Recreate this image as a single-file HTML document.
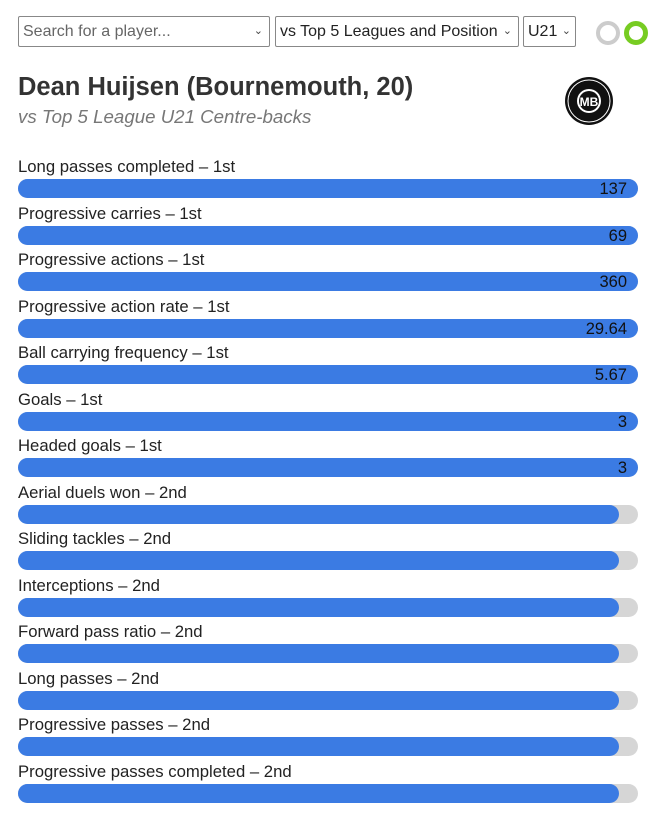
<!DOCTYPE html>
<html><head><meta charset="utf-8"><style>
body{margin:0;width:660px;height:829px;background:#fff;font-family:"Liberation Sans",Arial,sans-serif;color:#222;position:relative;overflow:hidden}
.sel{position:absolute;top:16px;height:31px;border:1px solid #888;border-radius:2px;box-sizing:border-box;font-size:16px;line-height:29px;padding-left:4px;color:#222}
.sel .c{position:absolute;right:6px;top:0;font-size:11px;color:#444}
.circ{position:absolute;border-radius:50%;box-sizing:border-box}
h1{position:absolute;left:18px;top:73px;margin:0;font-size:25.5px;font-weight:bold;color:#333}
.sub{position:absolute;left:18px;top:106px;font-size:18.7px;font-style:italic;color:#777}
.lab{position:absolute;left:18px;font-size:16.7px;color:#222}
.bg{position:absolute;left:18px;width:620px;height:19px;border-radius:10px;background:#d6d6d6}
.fg{position:absolute;left:0;top:0;height:19px;border-radius:10px;background:#3b7be3;font-size:16.5px;line-height:21px;text-align:right;box-sizing:border-box;padding-right:11px;color:#111}
</style></head><body>
<div class="sel" style="left:18px;width:252px;color:#666">Search for a player...<span class="c">&#8964;</span></div>
<div class="sel" style="left:275px;width:244px">vs Top 5 Leagues and Position<span class="c">&#8964;</span></div>
<div class="sel" style="left:523px;width:53px">U21<span class="c" style="right:4px">&#8964;</span></div>
<div class="circ" style="left:596px;top:21px;width:24px;height:24px;border:4px solid #ccc"></div>
<div class="circ" style="left:624px;top:21px;width:24px;height:24px;border:5px solid #77cc22"></div>
<h1>Dean Huijsen (Bournemouth, 20)</h1>
<div class="sub">vs Top 5 League U21 Centre-backs</div>
<svg style="position:absolute;left:564px;top:76px" width="50" height="50" viewBox="0 0 50 50"><circle cx="25" cy="25" r="24" fill="#111"/><circle cx="25" cy="25" r="21" fill="none" stroke="#fff" stroke-width="1"/><circle cx="25" cy="25" r="12" fill="#fff"/><circle cx="25" cy="25" r="10" fill="#111"/><text x="25" y="30" font-size="12" font-weight="bold" fill="#fff" text-anchor="middle" font-family="Liberation Sans">MB</text></svg>
<div id="bars"></div>
<script>
var d=[["Long passes completed – 1st","137",1],["Progressive carries – 1st","69",1],["Progressive actions – 1st","360",1],["Progressive action rate – 1st","29.64",1],["Ball carrying frequency – 1st","5.67",1],["Goals – 1st","3",1],["Headed goals – 1st","3",1],["Aerial duels won – 2nd","",0],["Sliding tackles – 2nd","",0],["Interceptions – 2nd","",0],["Forward pass ratio – 2nd","",0],["Long passes – 2nd","",0],["Progressive passes – 2nd","",0],["Progressive passes completed – 2nd","",0]];
var h="";d.forEach(function(r,i){var y=179+i*46.5;h+='<div class="lab" style="top:'+(y-22)+'px">'+r[0]+'</div><div class="bg" style="top:'+y+'px"><div class="fg" style="width:'+(r[2]?620:601)+'px">'+r[1]+'</div></div>';});
document.getElementById("bars").innerHTML=h;
</script>
</body></html>
